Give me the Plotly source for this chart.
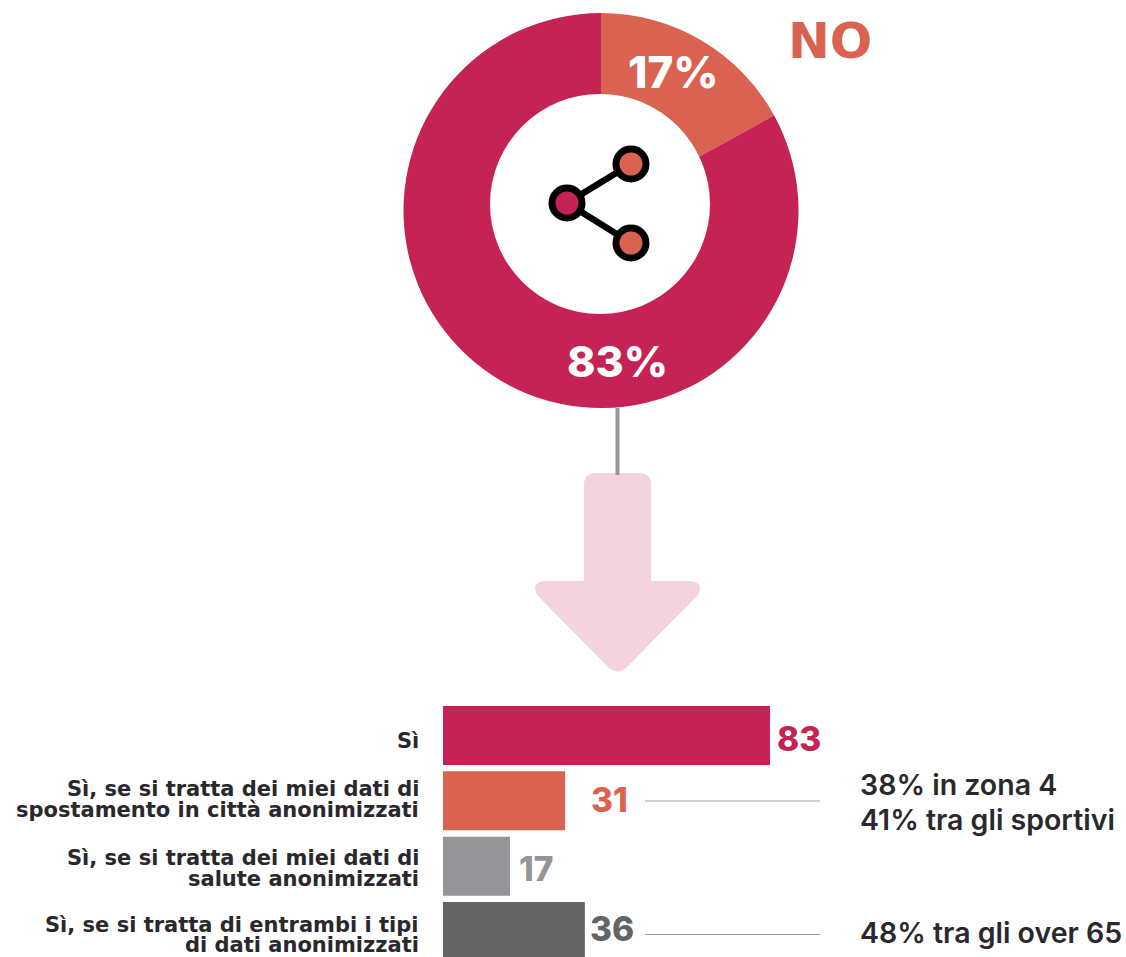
import plotly.graph_objects as go

W, H = 1126, 957

# Share of respondents willing to share their data
donut_labels = ["NO", "Sì"]
donut_values = [17, 83]

# Breakdown of the "yes" answers
bar_values = [83, 31, 17, 36]
bar_labels = [
    ["Sì"],
    ["Sì, se si tratta dei miei dati di", "spostamento in città anonimizzati"],
    ["Sì, se si tratta dei miei dati di", "salute anonimizzati"],
    ["Sì, se si tratta di entrambi i tipi", "di dati anonimizzati"],
]
side_notes = ["38% in zona 4", "41% tra gli sportivi", "48% tra gli over 65"]

CRIMSON = "#C42354"
CORAL = "#D96350"
GREY = "#939598"
DARK_GREY = "#636466"
INK = "#2A282C"
BLUSH = "#F3D3DF"
bar_colors = [CRIMSON, CORAL, GREY, DARK_GREY]
value_shift = [7, 26, 9, 5]

FONT = "Inter"
WIDE_FONT = "DejaVu Sans"


def px(x):
    return x / W


def py(y):
    return 1 - y / H


def text(x, y, s, size, color, anchor="center", weight=600, family=FONT):
    return dict(
        x=px(x), y=py(y), xref="paper", yref="paper", text=s, showarrow=False,
        xanchor=anchor, yanchor="middle", align=anchor, borderpad=0, borderwidth=0,
        font=dict(family=family, size=size, color=color, weight=weight),
    )


def circle(cx, cy, r, fill, line_color=None, line_width=0):
    return dict(
        type="circle", xref="paper", yref="paper",
        x0=px(cx - r), x1=px(cx + r), y0=py(cy + r), y1=py(cy - r),
        fillcolor=fill, line=dict(color=line_color or fill, width=line_width),
    )


def segment(x0, y0, x1, y1, color, width):
    return dict(
        type="line", xref="paper", yref="paper",
        x0=px(x0), x1=px(x1), y0=py(y0), y1=py(y1),
        line=dict(color=color, width=width),
    )


def arrow_path():
    p = lambda x, y: f"{px(x):.5f},{py(y):.5f}"
    return (
        f"M{p(584, 485)} Q{p(584, 473)} {p(596, 473)} L{p(639, 473)} "
        f"Q{p(651, 473)} {p(651, 485)} L{p(651, 581)} L{p(691, 581)} "
        f"Q{p(704, 583)} {p(698, 595)} L{p(626, 668)} Q{p(617.5, 675)} {p(609, 668)} "
        f"L{p(537, 595)} Q{p(531, 583)} {p(544, 581)} L{p(584, 581)} Z"
    )


fig = go.Figure()

fig.add_trace(go.Pie(
    labels=donut_labels, values=donut_values, hole=0.5, sort=False,
    direction="clockwise", rotation=0, textinfo="none", hoverinfo="label+percent",
    marker=dict(colors=[CORAL, CRIMSON], line=dict(width=0)),
    domain=dict(x=[px(403.5), px(798.5)], y=[py(409), py(12)]),
    showlegend=False,
))

# Horizontal bars share a fixed pixel scale with the annotations beside them
fig.add_trace(go.Bar(
    y=list(range(len(bar_values))), x=bar_values, orientation="h",
    width=0.903, marker=dict(color=bar_colors, line=dict(width=0)),
    hoverinfo="x", showlegend=False,
))

shapes = [
    dict(type="path", xref="paper", yref="paper", path=arrow_path(),
         fillcolor=BLUSH, line=dict(width=0), layer="below"),
    segment(617.5, 408, 617.5, 475, "#98989A", 4),
    circle(600, 204, 110, "white"),
    segment(567, 203, 631, 164, "black", 6.5),
    segment(567, 203, 631, 243, "black", 6.5),
    circle(567, 203, 15, CRIMSON, "black", 7),
    circle(631, 164, 15, CORAL, "black", 7),
    circle(631, 243, 15, CORAL, "black", 7),
    segment(645, 801, 820, 801, "#C4C4C4", 1.5),
    segment(645, 934.5, 820, 934.5, "#9A9A9A", 1.2),
]

annotations = [
    text(829.5, 41, donut_labels[0], 50, CORAL, weight=700, family=WIDE_FONT),
    text(673, 72, f"{donut_values[0]}%", 44, "white", weight=800),
    text(617, 361, f"{donut_values[1]}%", 43, "white", weight=800),
    text(860, 784, side_notes[0], 28.5, INK, "left"),
    text(860, 819, side_notes[1], 28.5, INK, "left"),
    text(860, 932, side_notes[2], 28.5, INK, "left"),
]

label_rows = [(741, None), (789, 810), (858, 879), (925, 945)]
for lines, rows in zip(bar_labels, label_rows):
    for line, y in zip(lines, rows):
        annotations.append(text(418.5, y, line, 21, INK, "right", weight=700, family=WIDE_FONT))

value_rows = [739, 800, 869, 929]
for i, v in enumerate(bar_values):
    ann = text(0, value_rows[i], str(v), 33.5, bar_colors[i], "left", weight=800)
    ann.update(x=v, xref="x", xshift=value_shift[i])
    annotations.append(ann)

fig.update_layout(
    width=W, height=H, margin=dict(l=0, r=0, t=0, b=0),
    paper_bgcolor="white", plot_bgcolor="rgba(0,0,0,0)",
    shapes=shapes, annotations=annotations,
    xaxis=dict(domain=[px(443), 1], range=[0, (W - 443) / 3.94], visible=False, fixedrange=True),
    # one category every 65.33 px, with the last bar running off the page edge
    yaxis=dict(domain=[0, py(703)], range=[3.39, -0.4975], visible=False, fixedrange=True),
)

fig.write_html("out.html")
